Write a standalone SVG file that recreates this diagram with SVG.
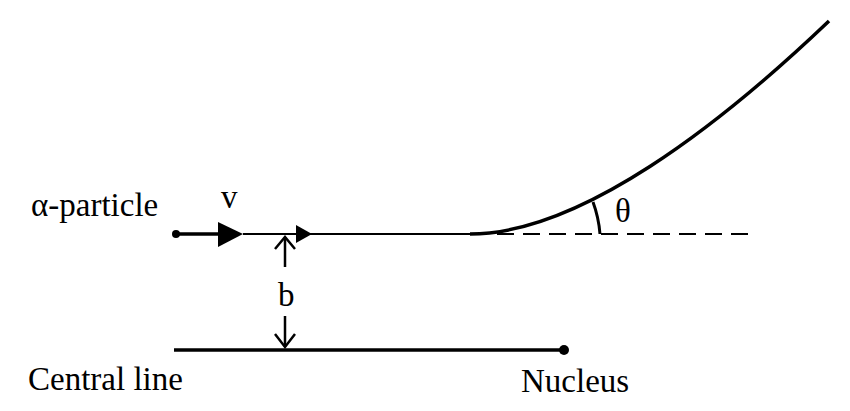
<svg xmlns="http://www.w3.org/2000/svg" width="850" height="411" viewBox="0 0 850 411">
<style>
text{font-family:"Liberation Serif","Times New Roman",serif;font-size:33px;fill:#000}
.ln{stroke:#000;fill:none;stroke-linecap:butt}
.chev{stroke:#000;fill:none;stroke-width:2.5;stroke-linejoin:miter}
</style>
<rect width="850" height="411" fill="#fff"/>
<g id="alpha-particle">
<circle cx="176" cy="234" r="4" fill="#000"/>
<text x="31" y="216">α-particle</text>
<text x="221" y="208">v</text>
</g>
<g id="central-line-node">
<text x="28" y="390">Central line</text>
</g>
<g id="nucleus">
<circle cx="564" cy="350" r="5" fill="#000"/>
<text x="521" y="392">Nucleus</text>
</g>
<g id="labels">
<text x="278" y="306">b</text>
<text x="615" y="222">θ</text>
</g>
<g id="connectors">
<line class="ln" x1="176" y1="234" x2="220" y2="234" stroke-width="3.5"/>
<polygon points="218,222 243,234 218,247" fill="#000"/>
<line class="ln" x1="243" y1="234" x2="472" y2="234" stroke-width="2"/>
<polygon points="296,225 312,234 296,243" fill="#000"/>
<path class="ln" d="M470,234 C580,234 720,125 829,21" stroke-width="3.5"/>
<line class="ln" x1="497" y1="234" x2="748" y2="234" stroke-width="2" stroke-dasharray="17 9"/>
<path class="ln" d="M600,234 A120,120 0 0,0 593,202" stroke-width="3"/>
<line class="ln" x1="174" y1="350" x2="564" y2="350" stroke-width="3.5"/>
<line class="ln" x1="285" y1="267" x2="285" y2="237" stroke-width="2.5"/>
<polyline class="chev" points="275,249 285,237 295,249"/>
<line class="ln" x1="285" y1="316" x2="285" y2="347" stroke-width="2.5"/>
<polyline class="chev" points="275,334 285,347 295,334"/>
</g>
</svg>
